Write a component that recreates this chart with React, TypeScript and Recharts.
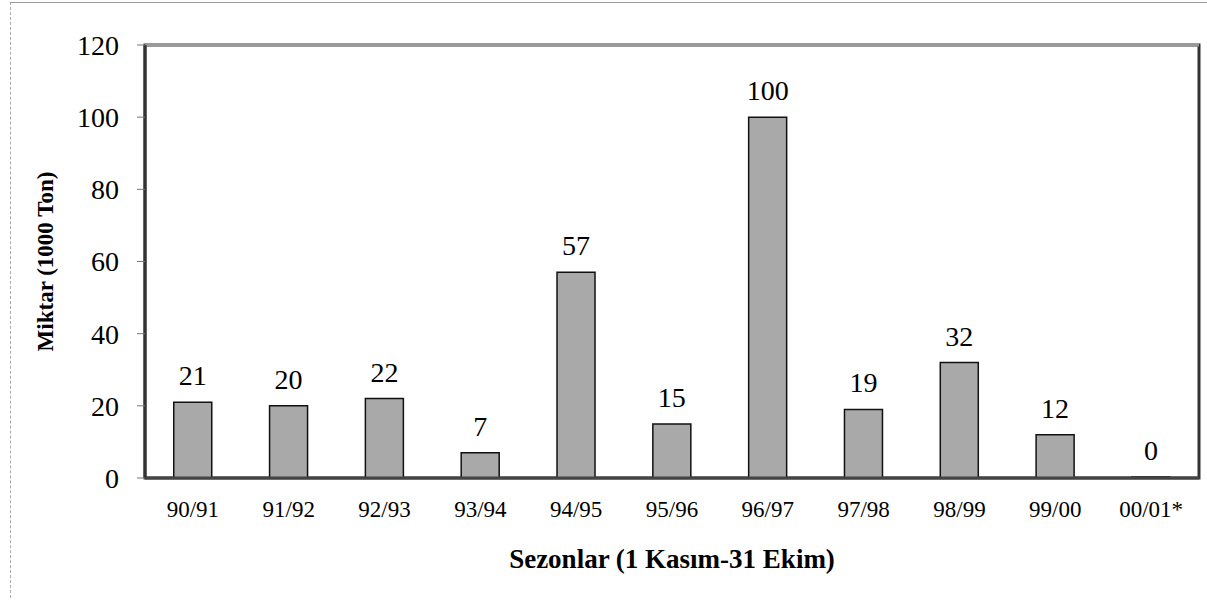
import React from 'react';
import { BarChart, Bar, XAxis, YAxis, LabelList, ReferenceArea, ReferenceLine } from 'recharts';

const SEASONS = ['90/91', '91/92', '92/93', '93/94', '94/95', '95/96', '96/97', '97/98', '98/99', '99/00', '00/01*'];
const AMOUNTS = [21, 20, 22, 7, 57, 15, 100, 19, 32, 12, 0];
const Y_TICKS = [0, 20, 40, 60, 80, 100, 120];

const data = SEASONS.map((season, i) => ({ season, amount: AMOUNTS[i] }));

const FONT = 'Liberation Serif, Times New Roman, serif';

function YTitle(props: any) {
    const vb = props.viewBox || {};
    const cx = 45;
    const cy = vb.y + vb.height / 2;
    return (
        <text
            x={cx}
            y={cy}
            transform={`rotate(-90 ${cx} ${cy})`}
            textAnchor="middle"
            dominantBaseline="central"
            style={{ fontFamily: FONT, fontWeight: 'bold', fontSize: 23 }}
            fill="#000"
        >
            Miktar (1000 Ton)
        </text>
    );
}

export default function App() {
    return (
        <div
            style={{
                position: 'absolute',
                left: 0,
                top: 0,
                width: 1207,
                height: 601,
                background: '#fff',
                fontFamily: FONT,
            }}
        >
            {/* faint page frame from the scanned original */}
            <div
                style={{
                    position: 'absolute',
                    left: 10,
                    top: 2,
                    width: 1197,
                    height: 596,
                    borderLeft: '1px dashed #aaa',
                    borderTop: '1px solid #999',
                    boxSizing: 'border-box',
                }}
            />
            <BarChart
                width={1207}
                height={601}
                data={data}
                margin={{ top: 45, right: 8, left: 30, bottom: 23 }}
                barCategoryGap="30%"
                style={{ position: 'absolute', left: 0, top: 0, fontFamily: FONT }}
            >
                <XAxis
                    dataKey="season"
                    height={100}
                    axisLine={{ stroke: '#444', strokeWidth: 3 }}
                    tickLine={false}
                    tick={{ fontFamily: FONT, fontSize: 23, fill: '#000' }}
                    tickMargin={17}
                    label={{
                        value: 'Sezonlar (1 Kasım-31 Ekim)',
                        position: 'insideBottom',
                        offset: 10,
                        style: { fontFamily: FONT, fontWeight: 'bold', fontSize: 27, fill: '#000' },
                    }}
                />
                <YAxis
                    width={115}
                    domain={[0, 120]}
                    ticks={Y_TICKS}
                    interval={0}
                    axisLine={{ stroke: '#333', strokeWidth: 3 }}
                    tickLine={{ stroke: '#777' }}
                    tickSize={8}
                    tickMargin={18}
                    tick={{ fontFamily: FONT, fontSize: 28, fill: '#000' }}
                    label={{ content: <YTitle /> }}
                />
                <ReferenceArea
                    y1={0}
                    y2={120}
                    fill="none"
                    stroke="#333"
                    strokeWidth={3}
                    ifOverflow="visible"
                />
                <ReferenceLine y={120} stroke="#999" strokeWidth={3} ifOverflow="visible" />
                {/* minPointSize keeps the zero bar in the list so its "0" label is drawn */}
                <Bar
                    dataKey="amount"
                    fill="#a9a9a9"
                    stroke="#111"
                    strokeWidth={1.5}
                    minPointSize={1}
                    isAnimationActive={false}
                >
                    <LabelList
                        dataKey="amount"
                        position="top"
                        offset={17}
                        formatter={(v: any) => String(v)}
                        style={{ fontFamily: FONT, fontSize: 28, fill: '#000' }}
                    />
                </Bar>
            </BarChart>
        </div>
    );
}
